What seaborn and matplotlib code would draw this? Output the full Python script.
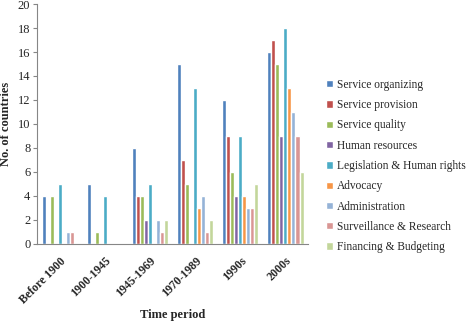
import numpy as np
import pandas as pd
import matplotlib
matplotlib.use("Agg")
import matplotlib.pyplot as plt
import seaborn as sns

# Data
periods = ["Before 1900", "1900-1945", "1945-1969", "1970-1989", "1990s", "2000s"]
series = ["Service organizing", "Service provision", "Service quality", "Human resources",
          "Legislation & Human rights", "Advocacy", "Administration",
          "Surveillance & Research", "Financing & Budgeting"]
service_organizing = [4, 5, 8, 15, 12, 16]
service_provision = [0, 0, 4, 7, 9, 17]
service_quality = [4, 1, 4, 5, 6, 15]
human_resources = [0, 0, 2, 0, 4, 9]
legislation = [5, 4, 5, 13, 9, 18]
advocacy = [0, 0, 0, 3, 4, 13]
administration = [1, 0, 2, 4, 3, 11]
surveillance = [1, 0, 1, 1, 3, 9]
financing = [0, 0, 2, 2, 5, 6]
colors = ["#4F81BD", "#C0504D", "#9BBB59", "#8064A2", "#4BACC6",
          "#F79646", "#95B3D7", "#D99694", "#C3D69B"]

values = [service_organizing, service_provision, service_quality, human_resources,
          legislation, advocacy, administration, surveillance, financing]
rows = []
for s, vals in zip(series, values):
    for p, v in zip(periods, vals):
        rows.append({"Period": p, "Area": s, "Count": v})
df = pd.DataFrame(rows)

sns.set_style("white")
plt.rcParams["font.family"] = ["Liberation Serif", "DejaVu Serif"]

fig = plt.figure(figsize=(4.71, 3.21), dpi=100)
ax = fig.add_axes([0.079, 0.24, 0.575, 0.7475])
sns.barplot(data=df, x="Period", y="Count", hue="Area", order=periods, hue_order=series,
            palette=colors, width=0.8, saturation=1, ax=ax, errorbar=None)

ax.set_ylim(0, 20)
ax.set_yticks(range(0, 21, 2))
ax.set_xlim(-0.5, 5.5)
ax.tick_params(axis="y", labelsize=9, length=3, color="#868686", direction="out", left=True, pad=2)
ax.tick_params(axis="x", labelsize=8.5, length=0, pad=8)
for lab in ax.get_xticklabels():
    lab.set_rotation(45); lab.set_ha("right"); lab.set_rotation_mode("anchor"); lab.set_fontweight("bold")
ax.set_ylabel("No. of countries", fontsize=9, fontweight="bold", labelpad=4)
ax.set_xlabel("Time period", fontsize=9, fontweight="bold", labelpad=2)
for side in ["top", "right"]:
    ax.spines[side].set_visible(False)
for side in ["left", "bottom"]:
    ax.spines[side].set_color("#868686")

handles, labels = ax.get_legend_handles_labels()
ax.legend(handles, labels, loc="center left", bbox_to_anchor=(1.05, 0.325), frameon=False,
          fontsize=8.3, handlelength=0.6, handleheight=0.6, handletextpad=0.3, labelspacing=0.72,
          borderaxespad=0)

fig.savefig("out.png", dpi=100)
